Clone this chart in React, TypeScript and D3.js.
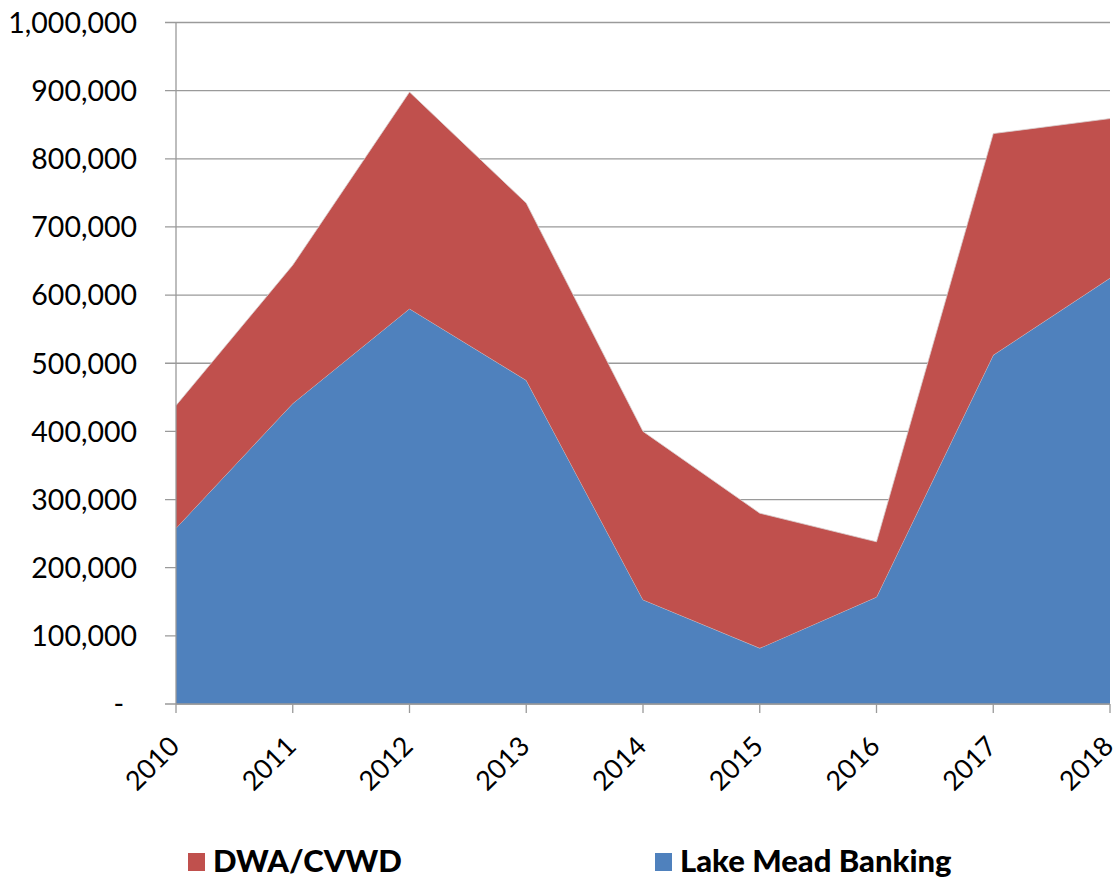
import { useMemo } from "react";
import * as d3 from "d3";

const YEARS = ["2010", "2011", "2012", "2013", "2014", "2015", "2016", "2017", "2018"];
const LAKE_MEAD = [258000, 441000, 580000, 475000, 153000, 82000, 157000, 512000, 625000];
const DWA_CVWD = [180000, 203000, 318000, 260000, 247000, 198000, 81000, 325000, 234000];
const Y_TICKS = d3.range(0, 1000001, 100000);

const SERIES = [
  { key: "lake", label: "Lake Mead Banking", color: "#4F81BD" },
  { key: "dwa", label: "DWA/CVWD", color: "#C0504D" },
];
const LEGEND = [SERIES[1], SERIES[0]];

const W = 1120;
const H = 879;
const FONT = "Lato, 'Open Sans', sans-serif";

export default function App() {
  const x = d3.scalePoint<string>().domain(YEARS).range([176, 1110]);
  const y = d3.scaleLinear().domain([0, 1000000]).range([704, 22.5]);

  const layers = useMemo(() => {
    const rows = YEARS.map((yr, i) => ({ year: yr, lake: LAKE_MEAD[i], dwa: DWA_CVWD[i] }));
    return d3.stack<any>().keys(SERIES.map((s) => s.key))(rows);
  }, []);

  const area = d3
    .area<any>()
    .x((d) => x(d.data.year)!)
    .y0((d) => y(d[0]))
    .y1((d) => y(d[1]));
  const topLine = d3
    .line<any>()
    .x((d) => x(d.data.year)!)
    .y((d) => y(d[1]));

  const fmt = d3.format(",");
  const [x0, x1] = x.range();

  return (
    <div style={{ position: "absolute", left: 0, top: 0 }}>
      <svg width={W} height={H} style={{ display: "block", background: "#fff" }}>
        {/* grid + y ticks */}
        {Y_TICKS.map((t) => (
          <g key={t}>
            <line x1={165} x2={x1} y1={y(t)} y2={y(t)} stroke="#9a9a9a" strokeWidth={1.3} />
            <text
              x={t === 0 ? 124 : 137}
              y={y(t)}
              dy="0.36em"
              textAnchor="end"
              fontFamily={FONT}
              fontSize={28.5}
              fill="#000"
            >
              {t === 0 ? "-" : fmt(t)}
            </text>
          </g>
        ))}

        {layers.map((layer, i) => (
          <g key={layer.key}>
            <path d={area(layer) ?? ""} fill={SERIES[i].color} />
            <path d={topLine(layer) ?? ""} fill="none" stroke="#d9d0d0" strokeWidth={0.8} />
          </g>
        ))}

        {/* axes */}
        <line x1={x0} x2={x0} y1={y(1000000)} y2={y(0)} stroke="#9a9a9a" strokeWidth={1.3} />
        <line x1={x0} x2={x1} y1={y(0)} y2={y(0)} stroke="#9a9a9a" strokeWidth={1.3} />
        {YEARS.map((yr) => (
          <g key={yr}>
            <line x1={x(yr)} x2={x(yr)} y1={y(0)} y2={y(0) + 9} stroke="#9a9a9a" strokeWidth={1.3} />
            <text
              transform={`translate(${x(yr)! + 5},${y(0) + 44}) rotate(-45)`}
              textAnchor="end"
              fontFamily={FONT}
              fontSize={27}
              fill="#000"
            >
              {yr}
            </text>
          </g>
        ))}

        {/* legend */}
        {LEGEND.map((s, i) => {
          const lx = i === 0 ? 188 : 655;
          return (
            <g key={s.key} transform={`translate(${lx},853)`}>
              <rect width={17} height={18} fill={s.color} />
              <text x={25} y={19} fontFamily={FONT} fontWeight="900" fontSize={31} fill="#000">
                {s.label}
              </text>
            </g>
          );
        })}
      </svg>
    </div>
  );
}
